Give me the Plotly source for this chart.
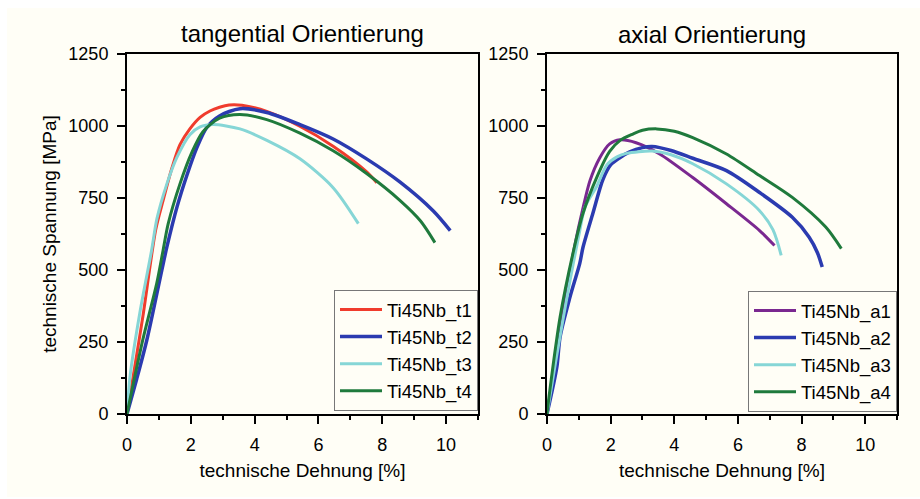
import plotly.graph_objects as go

# Tensile curves of Ti45Nb specimens: engineering strain [%] vs. engineering stress [MPa]

# tangential orientation
t1_strain = [0, 0.2, 0.5, 0.9, 1.13, 1.41, 1.66, 1.97, 2.29, 2.6, 2.9, 3.2, 3.6, 4.4, 5.4, 6.46, 7.52, 7.83]
t1_stress = [0, 135, 340, 640, 741, 855, 935, 990, 1030, 1052, 1065, 1073, 1072, 1050, 1000, 930, 840, 803]

t2_strain = [0, 0.3, 0.62, 1.09, 1.25, 1.57, 1.88, 2.19, 2.5, 2.9, 3.54, 4.38, 5.42, 6.46, 7.52, 8.56, 9.6, 10.13]
t2_stress = [0, 120, 256, 499, 580, 720, 830, 925, 995, 1035, 1060, 1047, 1005, 955, 885, 805, 705, 637]

t3_strain = [0, 0.1, 0.4, 0.77, 0.94, 1.25, 1.56, 1.97, 2.29, 2.7, 3.54, 4.4, 5.42, 6.46, 7.25]
t3_stress = [0, 135, 350, 568, 679, 799, 890, 970, 997, 1005, 990, 949, 886, 786, 661]

t4_strain = [0, 0.2, 0.5, 0.93, 1.13, 1.29, 1.66, 2.04, 2.38, 2.9, 3.54, 4.38, 5.42, 6.46, 7.52, 8.56, 9.2, 9.65]
t4_stress = [0, 107, 260, 453, 568, 660, 799, 910, 980, 1027, 1040, 1022, 975, 914, 834, 741, 670, 595]

# axial orientation
a1_strain = [0, 0.3, 0.6, 0.9, 1.1, 1.35, 1.66, 1.97, 2.29, 2.8, 3.54, 4.58, 5.64, 6.68, 7.15]
a1_stress = [0, 200, 420, 600, 700, 810, 890, 938, 952, 942, 903, 821, 730, 637, 585]

a2_strain = [0, 0.31, 0.41, 0.72, 1.03, 1.13, 1.44, 1.76, 2.0, 2.29, 2.6, 3.0, 3.3, 3.9, 4.58, 5.64, 6.68, 7.71, 8.24, 8.5, 8.65]
a2_stress = [0, 163, 267, 405, 523, 578, 696, 815, 865, 890, 910, 925, 929, 915, 888, 845, 769, 683, 614, 560, 510]

a3_strain = [0, 0.3, 0.7, 1.0, 1.2, 1.56, 1.88, 2.2, 2.5, 3.3, 3.9, 4.58, 5.64, 6.68, 7.1, 7.36]
a3_stress = [0, 200, 450, 620, 720, 790, 865, 893, 905, 913, 900, 869, 799, 706, 640, 551]

a4_strain = [0, 0.09, 0.41, 0.82, 1.13, 1.56, 1.97, 2.3, 2.7, 3.0, 3.45, 4.0, 4.58, 5.64, 6.68, 7.71, 8.76, 9.25]
a4_stress = [0, 83, 336, 560, 696, 821, 912, 950, 972, 985, 990, 982, 960, 903, 828, 752, 649, 574]

tangential = [
    ("Ti45Nb_t1", t1_strain, t1_stress, "#f03c2d", 3),
    ("Ti45Nb_t2", t2_strain, t2_stress, "#2b3bb0", 3.5),
    ("Ti45Nb_t3", t3_strain, t3_stress, "#86d6d6", 3),
    ("Ti45Nb_t4", t4_strain, t4_stress, "#1f7a3c", 3),
]
axial = [
    ("Ti45Nb_a1", a1_strain, a1_stress, "#7a2890", 3),
    ("Ti45Nb_a2", a2_strain, a2_stress, "#2b3bb0", 3.5),
    ("Ti45Nb_a3", a3_strain, a3_stress, "#86d6d6", 3),
    ("Ti45Nb_a4", a4_strain, a4_stress, "#1f7a3c", 3),
]

FONT = "Arial, Liberation Sans, sans-serif"
BG = "#fffef6"
fig = go.Figure()

for name, x, y, c, w in tangential:
    fig.add_trace(go.Scatter(x=x, y=y, name=name, mode="lines",
                             line=dict(color=c, width=w, shape="spline", smoothing=0.8),
                             xaxis="x", yaxis="y", legend="legend"))
for name, x, y, c, w in axial:
    fig.add_trace(go.Scatter(x=x, y=y, name=name, mode="lines",
                             line=dict(color=c, width=w, shape="spline", smoothing=0.8),
                             xaxis="x2", yaxis="y2", legend="legend2"))

W, H = 920, 499
ybot, ytop = 1 - 414 / H, 1 - 54 / H

xcommon = dict(range=[0, 11], tickvals=[0, 2, 4, 6, 8, 10], showgrid=False, zeroline=False,
               automargin=False,
               showline=True, linecolor="black", linewidth=2, mirror=True,
               ticks="outside", ticklen=8, tickwidth=1.5, tickcolor="black", ticklabelstandoff=5,
               minor=dict(dtick=1, tick0=0, ticks="outside", ticklen=4, tickwidth=1.5, tickcolor="black"),
               tickfont=dict(family=FONT, size=18, color="black"),
               title=dict(text="technische Dehnung [%]", font=dict(family=FONT, size=19, color="black"),
                          standoff=10))
ycommon = dict(range=[0, 1250], tickvals=[0, 250, 500, 750, 1000, 1250], showgrid=False, zeroline=False,
               automargin=False,
               showline=True, linecolor="black", linewidth=2, mirror=True,
               ticks="outside", ticklen=8, tickwidth=1.5, tickcolor="black", ticklabelstandoff=5,
               minor=dict(dtick=125, tick0=0, ticks="outside", ticklen=4, tickwidth=1.5, tickcolor="black"),
               tickfont=dict(family=FONT, size=18, color="black"))

legcommon = dict(font=dict(family=FONT, size=18.5, color="black"), bgcolor="rgba(0,0,0,0)",
                 bordercolor="#777777", borderwidth=1, xanchor="right", yanchor="bottom",
                 tracegroupgap=0, itemwidth=42)

fig.update_layout(
    template="none",
    width=W, height=H, margin=dict(l=0, r=0, t=0, b=0, autoexpand=False),
    paper_bgcolor="white", plot_bgcolor=BG,
    font=dict(family=FONT, color="black"),
    xaxis=dict(domain=[127 / W, 478 / W], anchor="y", **xcommon),
    yaxis=dict(domain=[ybot, ytop], anchor="x",
               title=dict(text="technische Spannung [MPa]", font=dict(family=FONT, size=19, color="black"),
                          standoff=7),
               **ycommon),
    xaxis2=dict(domain=[547 / W, 897 / W], anchor="y2", **xcommon),
    yaxis2=dict(domain=[ybot, ytop], anchor="x2", **ycommon),
    legend=dict(x=478 / W, y=1 - 411 / H, **legcommon),
    legend2=dict(x=897 / W, y=1 - 412 / H, **legcommon),
    shapes=[dict(type="rect", xref="paper", yref="paper", x0=7 / W, x1=1, y0=2 / H, y1=1 - 8 / H,
                 fillcolor=BG, line=dict(width=0), layer="below")],
    annotations=[
        dict(text="tangential Orientierung", xref="paper", yref="paper", x=302 / W, y=1 - 34 / H,
             xanchor="center", yanchor="middle",
             showarrow=False, font=dict(family=FONT, size=24, color="black")),
        dict(text="axial Orientierung", xref="paper", yref="paper", x=712 / W, y=1 - 35 / H,
             xanchor="center", yanchor="middle",
             showarrow=False, font=dict(family=FONT, size=24, color="black")),
    ],
)

fig.write_html("out.html")
